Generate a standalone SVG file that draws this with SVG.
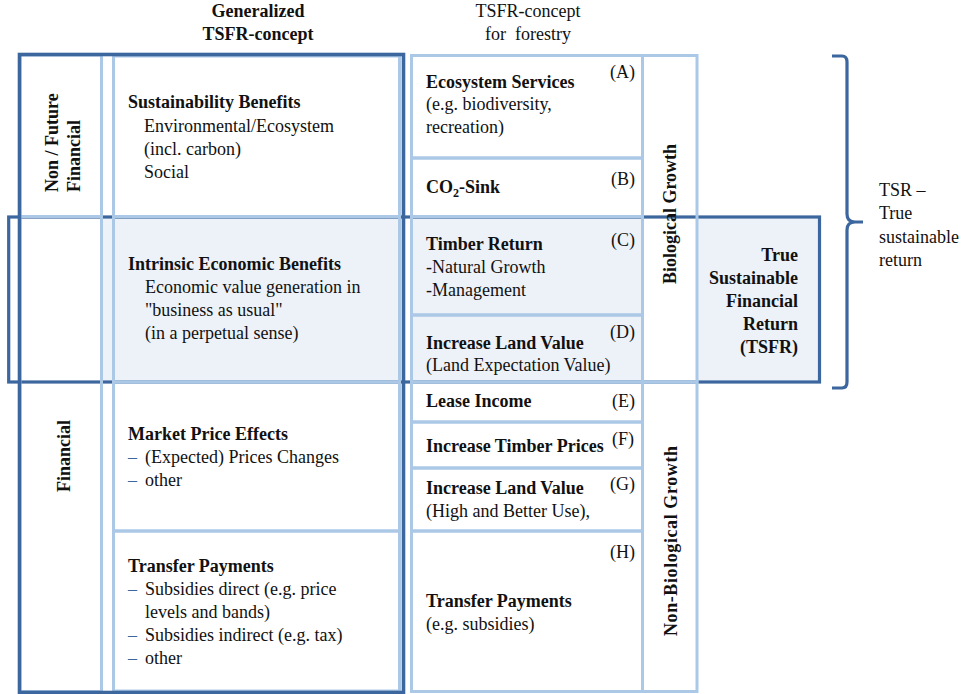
<svg xmlns="http://www.w3.org/2000/svg" width="961" height="694" viewBox="0 0 961 694">
<style>
text{font-family:"Liberation Serif","Times New Roman",serif;font-size:18px;fill:#111}
.b{font-weight:bold}
.m{text-anchor:middle}
.e{text-anchor:end}
.lt{fill:none;stroke:#ABC8E6;stroke-width:3}
.dk{fill:none;stroke:#3C669E;stroke-width:3.2}
.sh{fill:#EDF2F9;stroke:none}
.ds{fill:#3C669E}
</style>
<rect width="961" height="694" fill="#fff"/>
<g id="shading">
<rect class="sh" x="102" y="217" width="298" height="165"/>
<rect class="sh" x="411" y="217" width="232" height="165"/>
<rect class="sh" x="697" y="217" width="122" height="165"/>
</g>
<g id="financial-band"><rect class="dk" x="8.7" y="217" width="810.8" height="165"/></g>
<g id="headers">
<text class="b m" x="258" y="17">Generalized</text>
<text class="b m" x="258" y="40">TSFR-concept</text>
<text class="m" x="528" y="17">TSFR-concept</text>
<text class="m" x="528" y="40" style="white-space:pre">for  forestry</text>
</g>
<g id="label-nonfuture">
<rect class="lt" x="20" y="55" width="81.5" height="161.5"/>
<text class="b" transform="translate(58,192) rotate(-90)" style="white-space:pre">Non / Future</text>
<text class="b" transform="translate(80,192) rotate(-90)">Financial</text>
</g>
<g id="label-financial">
<rect class="lt" x="20" y="216.5" width="81.5" height="475"/>
<text class="b m" transform="translate(70,456) rotate(-90)">Financial</text>
</g>
<g id="sustainability">
<rect class="lt" x="113.5" y="56" width="286" height="160.5"/>
<text class="b" x="128" y="108">Sustainability Benefits</text>
<text x="144" y="132">Environmental/Ecosystem</text>
<text x="144" y="155">(incl. carbon)</text>
<text x="144" y="178">Social</text>
</g>
<g id="intrinsic">
<rect class="lt" x="113.5" y="216.5" width="286" height="165.5"/>
<text class="b" x="128" y="270">Intrinsic Economic Benefits</text>
<text x="145" y="293">Economic value generation in</text>
<text x="145" y="316">"business as usual"</text>
<text x="145" y="339">(in a perpetual sense)</text>
</g>
<g id="market">
<rect class="lt" x="113.5" y="382" width="286" height="149"/>
<text class="b" x="128" y="440">Market Price Effects</text>
<text class="ds" x="128" y="463">–</text><text x="145" y="463">(Expected) Prices Changes</text>
<text class="ds" x="128" y="486">–</text><text x="145" y="486">other</text>
</g>
<g id="transfer">
<rect class="lt" x="113.5" y="531" width="286" height="160"/>
<text class="b" x="128" y="572">Transfer Payments</text>
<text class="ds" x="128" y="595">–</text><text x="145" y="595">Subsidies direct (e.g. price</text>
<text x="145" y="618">levels and bands)</text>
<text class="ds" x="128" y="641">–</text><text x="145" y="641">Subsidies indirect (e.g. tax)</text>
<text class="ds" x="128" y="664">–</text><text x="145" y="664">other</text>
</g>
<g id="outer-generalized"><rect class="dk" x="19.5" y="54.5" width="384" height="638" style="stroke-width:3.6"/></g>
<g id="A">
<rect class="lt" x="411.5" y="55.5" width="231" height="102.5"/>
<text class="b" x="426" y="88">Ecosystem Services</text>
<text x="426" y="110">(e.g. biodiversity,</text>
<text x="426" y="133">recreation)</text>
<text class="e" x="635" y="78">(A)</text>
</g>
<g id="B">
<rect class="lt" x="411.5" y="158" width="231" height="58.5"/>
<text class="b" x="426" y="193">CO<tspan font-size="12" dy="4">2</tspan><tspan dy="-4">-Sink</tspan></text>
<text class="e" x="635" y="185">(B)</text>
</g>
<g id="C">
<rect class="lt" x="411.5" y="216.5" width="231" height="98.5"/>
<text class="b" x="426" y="250">Timber Return</text>
<text x="426" y="273">-Natural Growth</text>
<text x="426" y="296">-Management</text>
<text class="e" x="635" y="246">(C)</text>
</g>
<g id="D">
<rect class="lt" x="411.5" y="315" width="231" height="67"/>
<text class="b" x="426" y="349">Increase Land Value</text>
<text x="426" y="371">(Land Expectation Value)</text>
<text class="e" x="635" y="338">(D)</text>
</g>
<g id="E">
<rect class="lt" x="411.5" y="382" width="231" height="40"/>
<text class="b" x="426" y="407">Lease Income</text>
<text class="e" x="635" y="407">(E)</text>
</g>
<g id="F">
<rect class="lt" x="411.5" y="422" width="231" height="46"/>
<text class="b" x="426" y="452">Increase Timber Prices</text>
<text class="e" x="634" y="445">(F)</text>
</g>
<g id="G">
<rect class="lt" x="411.5" y="468" width="231" height="63"/>
<text class="b" x="426" y="494">Increase Land Value</text>
<text x="426" y="517">(High and Better Use),</text>
<text class="e" x="635" y="490">(G)</text>
</g>
<g id="H">
<rect class="lt" x="411.5" y="531" width="231" height="160.5"/>
<text class="e" x="635" y="558">(H)</text>
<text class="b" x="426" y="607">Transfer Payments</text>
<text x="426" y="630">(e.g. subsidies)</text>
</g>
<g id="bio">
<rect class="lt" x="642.5" y="55.5" width="54.5" height="326.5"/>
<text class="b m" transform="translate(676,214) rotate(-90)">Biological Growth</text>
</g>
<g id="nonbio">
<rect class="lt" x="642.5" y="382" width="54.5" height="309.5"/>
<text class="b m" transform="translate(677,541) rotate(-90)" textLength="190">Non-Biological Growth</text>
</g>
<g id="tsfr">
<text class="b e" x="798" y="261">True</text>
<text class="b e" x="798" y="284">Sustainable</text>
<text class="b e" x="798" y="307">Financial</text>
<text class="b e" x="798" y="330">Return</text>
<text class="b e" x="798" y="353">(TSFR)</text>
</g>
<g id="connectors">
<path class="dk" d="M832,56 L842,56 Q847,56 847,62 L847,214 Q847,222 855,222 L863,222 M855,222 Q847,222 847,230 L847,382 Q847,388 842,388 L832,388"/>
</g>
<g id="tsr">
<text x="879" y="196">TSR –</text>
<text x="879" y="219">True</text>
<text x="879" y="243">sustainable</text>
<text x="879" y="266">return</text>
</g>
</svg>
